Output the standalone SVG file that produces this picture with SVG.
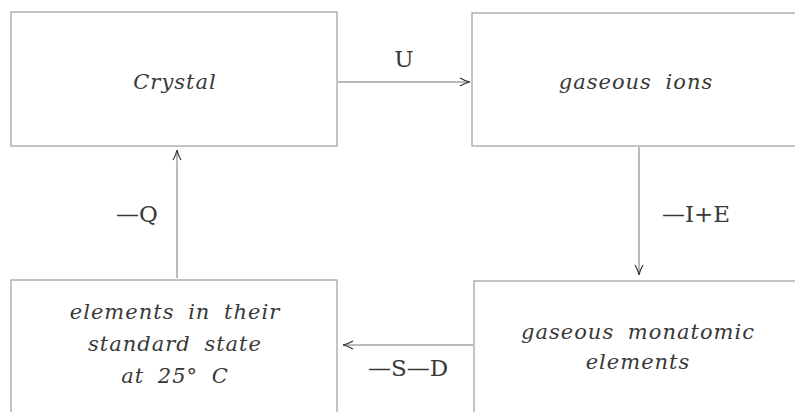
<svg xmlns="http://www.w3.org/2000/svg" width="795" height="412" viewBox="0 0 795 412">
<style>
.box{fill:none;stroke:#8a8a8a;stroke-width:1}
.lbl{font-family:"DejaVu Serif","Liberation Serif",serif;font-style:italic;font-size:21px;fill:#383838;letter-spacing:1px;word-spacing:6px;text-anchor:middle}
.sym{font-family:"DejaVu Serif","Liberation Serif",serif;font-size:23px;fill:#383838;text-anchor:middle}
.conn{stroke:#777;stroke-width:1;fill:none;marker-end:url(#ah)}
</style>
<defs>
<marker id="ah" viewBox="0 0 12 10" refX="11" refY="5" markerWidth="12" markerHeight="10" markerUnits="userSpaceOnUse" orient="auto">
<path d="M1,1 Q6,4 11,5 Q6,6 1,9" fill="none" stroke="#333" stroke-width="1.2"/>
</marker>
</defs>
<rect width="795" height="412" fill="#fff"/>
<g id="crystal">
<rect class="box" x="11" y="12" width="326" height="134"/>
<text class="lbl" x="175" y="89">Crystal</text>
</g>
<g id="ions">
<rect class="box" x="472" y="13" width="330" height="133"/>
<text class="lbl" x="636" y="89">gaseous ions</text>
</g>
<g id="standard">
<rect class="box" x="11" y="280" width="326" height="140"/>
<text class="lbl" x="175" y="319">elements in their</text>
<text class="lbl" x="175" y="351">standard state</text>
<text class="lbl" x="175" y="383">at 25° C</text>
</g>
<g id="monatomic">
<rect class="box" x="474" y="281" width="330" height="140"/>
<text class="lbl" x="638" y="339">gaseous monatomic</text>
<text class="lbl" x="638" y="369">elements</text>
</g>
<g id="connectors">
<line class="conn" x1="338" y1="82" x2="470" y2="82"/>
<line class="conn" x1="639" y1="147" x2="639" y2="275"/>
<line class="conn" x1="473" y1="345" x2="343" y2="345"/>
<line class="conn" x1="177" y1="278" x2="177" y2="150"/>
<text class="sym" x="404" y="67">U</text>
<text class="sym" x="696" y="222">—I+E</text>
<text class="sym" x="408" y="376">—S—D</text>
<text class="sym" x="137" y="222">—Q</text>
</g>
</svg>
